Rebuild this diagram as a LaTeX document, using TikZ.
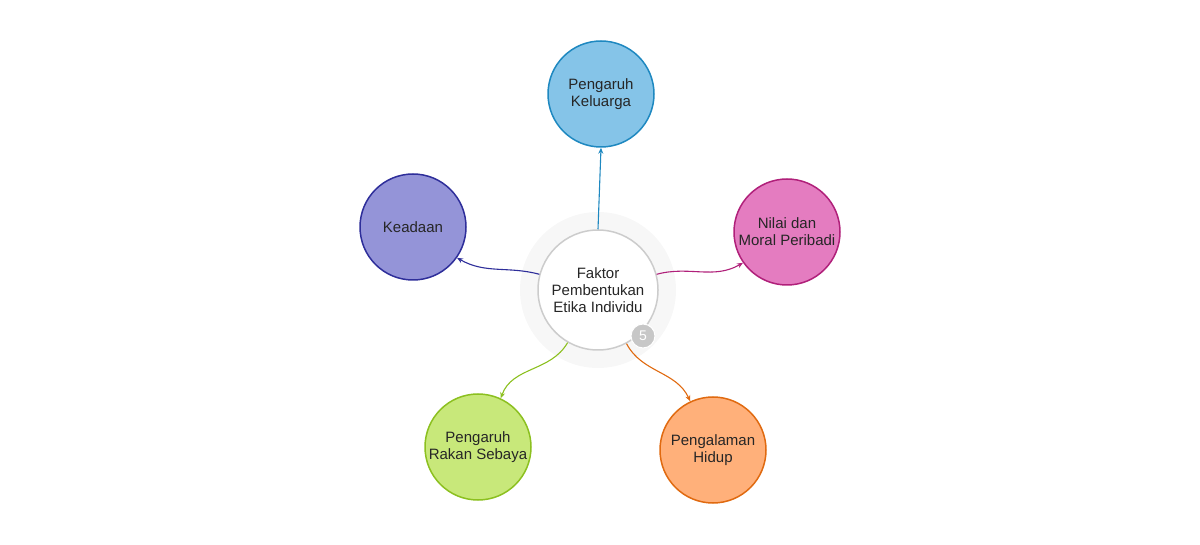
\documentclass[tikz,border=0pt]{standalone}
\usepackage{fontspec}
\setmainfont{Liberation Sans}
\usetikzlibrary{arrows.meta}
\begin{document}
\begin{tikzpicture}[x=1pt,y=-1pt,
  sat/.style={circle,minimum size=106pt,line width=1.5pt,align=center,font=\fontsize{15}{17}\selectfont,text=black!85,inner sep=0pt},
  con/.style={line width=1.1pt,-{Stealth[length=6pt,width=5pt]}}]
\useasboundingbox (0,0) rectangle (1200,545);
\definecolor{cA}{HTML}{85C4E8}\definecolor{bA}{HTML}{1E88C0}
\definecolor{cB}{HTML}{9494D8}\definecolor{bB}{HTML}{2E2E9A}
\definecolor{cC}{HTML}{E47CC0}\definecolor{bC}{HTML}{B0207A}
\definecolor{cD}{HTML}{C8E87A}\definecolor{bD}{HTML}{8CC020}
\definecolor{cE}{HTML}{FFB07A}\definecolor{bE}{HTML}{E06A10}
\fill[black!3] (598,290) circle (78);
\node[circle,minimum size=120pt,fill=white,draw=black!20,line width=1.5pt,align=center,font=\fontsize{15}{17}\selectfont,text=black!85] (c) at (598,290) {Faktor\\Pembentukan\\Etika Individu};
\node[circle,fill=black!22,draw=white,line width=1pt,minimum size=24pt,inner sep=0pt,text=white,font=\fontsize{14}{14}\selectfont] (b) at (643,336) {5};
\node[sat,fill=cA,draw=bA] (n1) at (601,94) {Pengaruh\\Keluarga};
\node[sat,fill=cB,draw=bB] (n2) at (413,227) {Keadaan};
\node[sat,fill=cC,draw=bC] (n3) at (787,232) {Nilai dan\\Moral Peribadi};
\node[sat,fill=cD,draw=bD] (n4) at (478,447) {Pengaruh\\Rakan Sebaya};
\node[sat,fill=cE,draw=bE] (n5) at (713,450) {Pengalaman\\Hidup};
\draw[con,bA] (c.north) -- (n1.south);
\draw[con,bB] (c.165) to[out=165,in=-30] (n2.-35);
\draw[con,bC] (c.15) to[out=15,in=-150] (n3.-145);
\draw[con,bD] (c.240) to[out=240,in=70] (n4.65);
\draw[con,bE] (c.-62) to[out=-62,in=115] (n5.115);
\end{tikzpicture}
\end{document}
